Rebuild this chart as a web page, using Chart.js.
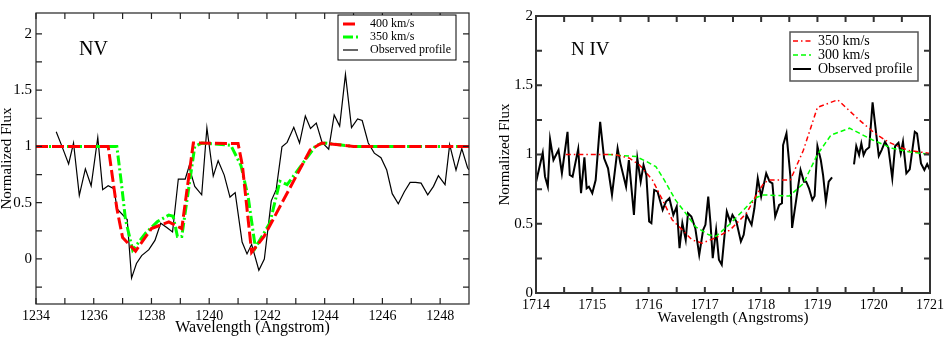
<!DOCTYPE html>
<html>
<head>
<meta charset="utf-8">
<script src="https://cdn.jsdelivr.net/npm/chart.js@4.4.1/dist/chart.umd.min.js"></script>
<style>
  html, body { margin: 0; padding: 0; background: #fff; }
  #wrap { position: relative; width: 948px; height: 338px; }
  canvas { position: absolute; top: 0; }
  #nv { left: 0; }
  #niv { left: 480px; }
</style>
</head>
<body>
<div id="wrap">
  <canvas id="nv" width="480" height="338"></canvas>
  <canvas id="niv" width="468" height="338"></canvas>
</div>
<script>
// ---- N V panel (left) ----
var nvObsX = [1234.70, 1234.90, 1235.13, 1235.30, 1235.50, 1235.71, 1235.91, 1236.14, 1236.31, 1236.50,
              1236.70, 1236.81, 1237.16, 1237.31, 1237.48, 1237.66, 1237.91, 1238.12, 1238.32, 1238.53,
              1238.73, 1238.93, 1239.17, 1239.30, 1239.50, 1239.74, 1239.92, 1240.14, 1240.31, 1240.52,
              1240.72, 1240.90, 1241.14, 1241.31, 1241.47, 1241.72, 1241.91, 1242.15, 1242.32, 1242.52,
              1242.70, 1242.93, 1243.13, 1243.33, 1243.51, 1243.71, 1243.91, 1244.14, 1244.33, 1244.52,
              1244.72, 1244.93, 1245.14, 1245.30, 1245.51, 1245.72, 1245.95, 1246.15, 1246.34, 1246.55,
              1246.76, 1246.96, 1247.15, 1247.34, 1247.57, 1247.77, 1247.94, 1248.17, 1248.33, 1248.55,
              1248.75, 1248.95, 1249.00];
var nvObsY = [1.13, 1.0, 0.845, 1.03, 0.565, 0.80, 0.65, 1.08, 0.616, 0.65,
              0.625, 0.445, 0.35, -0.17, -0.04, 0.03, 0.083, 0.165, 0.317, 0.28,
              0.24, 0.71, 0.71, 0.82, 0.645, 0.57, 1.165, 0.736, 0.873, 0.745,
              0.55, 0.59, 0.15, 0.045, 0.13, -0.10, 0.0, 0.516, 0.616, 0.996,
              1.036, 1.17, 1.03, 1.27, 1.16, 1.207, 1.036, 0.975, 1.28, 1.18,
              1.64, 1.167, 1.244, 1.23, 1.03, 0.94, 0.90, 0.79, 0.58, 0.49,
              0.597, 0.68, 0.68, 0.674, 0.57, 0.645, 0.74, 0.66, 1.016, 0.79,
              0.98, 0.81, 0.79];

var nv400X = [1234, 1236.5, 1236.8, 1237.0, 1237.45, 1238.0, 1238.6, 1239.05, 1239.45, 1241.0,
              1241.15, 1241.47, 1241.9, 1243.5, 1243.9, 1244.3, 1245, 1249];
var nv400Y = [1, 1, 0.45, 0.19, 0.07, 0.27, 0.33, 0.27, 1.03, 1.025,
              0.83, 0.06, 0.2, 0.97, 1.03, 1.02, 1.0, 1.0];

var nv350X = [1234, 1236.8, 1236.95, 1237.1, 1237.35, 1237.8, 1238.2, 1238.6, 1238.75, 1238.9,
              1239.05, 1239.5, 1239.75, 1240.75, 1241.1, 1241.35, 1241.6, 1242.1, 1242.45, 1242.7,
              1243.7, 1244, 1245, 1249];
var nv350Y = [1, 1, 0.69, 0.35, 0.08, 0.23, 0.33, 0.39, 0.38, 0.2,
              0.2, 1.0, 1.03, 1.01, 0.83, 0.55, 0.10, 0.32, 0.69, 0.66,
              1.01, 1.03, 1.0, 1.0];

var nvXTicks = [1234, 1236, 1238, 1240, 1242, 1244, 1246, 1248];
var nvXMinor = [1235, 1237, 1239, 1241, 1243, 1245, 1247];
var nvYTicks = [0, 0.5, 1, 1.5, 2];
var nvYMinor = [-0.25, 0.25, 0.75, 1.25, 1.75];

// ---- N IV panel (right) ----
var nivObsX = [1714.00, 1714.05, 1714.12, 1714.16, 1714.21, 1714.25, 1714.31, 1714.40, 1714.46, 1714.56,
               1714.60, 1714.65, 1714.75, 1714.80, 1714.86, 1714.90, 1714.94, 1715.00, 1715.06, 1715.14,
               1715.21, 1715.28, 1715.35, 1715.45, 1715.50, 1715.60, 1715.65, 1715.74, 1715.80, 1715.86,
               1715.91, 1715.96, 1716.01, 1716.05, 1716.10, 1716.16, 1716.25, 1716.31, 1716.37, 1716.44,
               1716.50, 1716.55, 1716.60, 1716.66, 1716.70, 1716.76, 1716.83, 1716.90, 1716.97, 1717.01,
               1717.06, 1717.10, 1717.14, 1717.20, 1717.25, 1717.30, 1717.39, 1717.45, 1717.49, 1717.56,
               1717.64, 1717.69, 1717.74, 1717.83, 1717.88, 1717.94, 1718.00, 1718.09, 1718.15, 1718.20,
               1718.25, 1718.32, 1718.37, 1718.39, 1718.45, 1718.52, 1718.55, 1718.70, 1718.76, 1718.80,
               1718.85, 1718.91, 1718.95, 1719.00, 1719.06, 1719.10, 1719.15, 1719.20, 1719.26,
               1719.45,
               1719.65, 1719.69, 1719.74, 1719.78, 1719.82, 1719.86, 1719.92, 1719.98, 1720.03, 1720.09,
               1720.14, 1720.20, 1720.26, 1720.33, 1720.38, 1720.44, 1720.48, 1720.52, 1720.58, 1720.64,
               1720.73, 1720.77, 1720.84, 1720.90, 1720.95, 1721.00];
var nivObsY = [0.80, 0.888, 1.013, 0.84, 0.768, 1.11, 0.96, 1.033, 0.865, 1.164,
               0.853, 0.84, 1.04, 0.72, 0.98, 0.756, 0.768, 0.72, 0.816, 1.236,
               0.972, 0.90, 0.708, 1.044, 0.936, 0.768, 0.96, 0.564, 0.972, 0.804,
               0.924, 0.852, 0.516, 0.504, 0.744, 0.732, 0.60, 0.66, 0.684, 0.564,
               0.624, 0.324, 0.504, 0.384, 0.576, 0.552, 0.468, 0.276, 0.456, 0.492,
               0.696, 0.504, 0.252, 0.456, 0.24, 0.204, 0.588, 0.516, 0.564, 0.516,
               0.372, 0.42, 0.564, 0.492, 0.612, 0.828, 0.696, 0.864, 0.804, 0.792,
               0.552, 0.636, 0.648, 1.068, 1.152, 0.84, 0.47, 0.888, 0.804, 0.804,
               0.756, 0.672, 0.70, 1.06, 0.96, 0.852, 0.66, 0.804, 0.835,
               null,
               0.929, 1.06, 0.996, 1.08, 0.996, 1.032, 1.052, 1.376, 1.20, 0.989,
               1.032, 1.092, 1.049, 0.828, 1.06, 1.085, 1.008, 1.092, 0.864, 0.893,
               1.164, 1.152, 0.936, 0.888, 0.931, 0.888];

var niv350X = [1714.53, 1715.4, 1715.66, 1715.84, 1716.07, 1716.25, 1716.42, 1716.6, 1716.77, 1716.95,
               1717.2, 1717.45, 1717.74, 1717.92, 1718.05, 1718.15, 1718.52, 1718.75, 1719.0, 1719.36,
               1719.74, 1720.03, 1720.26, 1720.61, 1721.0];
var niv350Y = [1.0, 1.0, 0.973, 0.924, 0.815, 0.67, 0.528, 0.456, 0.384, 0.36,
               0.40, 0.456, 0.576, 0.71, 0.795, 0.815, 0.817, 1.03, 1.34, 1.395,
               1.25, 1.15, 1.09, 1.03, 1.008];

var niv300X = [1715.28, 1715.78, 1715.96, 1716.13, 1716.28, 1716.48, 1716.66, 1716.83, 1717.07, 1717.2,
               1717.45, 1717.69, 1717.89, 1718.04, 1718.5, 1718.75, 1719.0, 1719.24, 1719.57, 1719.98,
               1720.33, 1720.62, 1721.0];
var niv300Y = [1.0, 0.985, 0.95, 0.912, 0.815, 0.67, 0.576, 0.48, 0.42, 0.41,
               0.5, 0.6, 0.686, 0.708, 0.70, 0.79, 1.0, 1.14, 1.19, 1.105,
               1.045, 1.02, 1.0];

var nivXTicks = [1714, 1715, 1716, 1717, 1718, 1719, 1720, 1721];
var nivXMinor = [1714.5, 1715.5, 1716.5, 1717.5, 1718.5, 1719.5, 1720.5];
var nivYTicks = [0, 0.5, 1, 1.5, 2];
var nivYMinor = [0.25, 0.75, 1.25, 1.75];

var SERIF = "'Liberation Serif', 'DejaVu Serif', serif";

function pts(xs, ys) {
  return xs.map((x, i) => ({ x: x, y: ys[i] }));
}

// frame with inward ticks on all four sides
const framePlugin = {
  id: 'frame',
  afterDatasetsDraw(chart, args, o) {
    const { ctx, chartArea: a } = chart;
    const x = chart.scales.x, y = chart.scales.y;
    ctx.save();
    ctx.strokeStyle = o.color;
    ctx.lineWidth = o.width;
    ctx.strokeRect(a.left, a.top, a.right - a.left, a.bottom - a.top);
    ctx.beginPath();
    o.xTicks.concat(o.xMinor).forEach(v => {
      const px = x.getPixelForValue(v);
      ctx.moveTo(px, a.bottom); ctx.lineTo(px, a.bottom - o.tick);
      ctx.moveTo(px, a.top); ctx.lineTo(px, a.top + o.tick);
    });
    o.yTicks.concat(o.yMinor).forEach(v => {
      const py = y.getPixelForValue(v);
      ctx.moveTo(a.left, py); ctx.lineTo(a.left + o.tick, py);
      ctx.moveTo(a.right, py); ctx.lineTo(a.right - o.tick, py);
    });
    ctx.stroke();
    ctx.restore();
  }
};

// legend box + ion label inside the plot
const boxLegend = {
  id: 'boxLegend',
  afterDraw(chart, args, o) {
    const ctx = chart.ctx;
    ctx.save();
    ctx.fillStyle = '#fff';
    ctx.fillRect(o.box[0], o.box[1], o.box[2], o.box[3]);
    ctx.strokeStyle = o.boxColor;
    ctx.lineWidth = o.boxWidth;
    ctx.strokeRect(o.box[0], o.box[1], o.box[2], o.box[3]);
    ctx.font = o.fontSize + 'px ' + SERIF;
    ctx.textBaseline = 'middle';
    chart.data.datasets.forEach((ds, i) => {
      const yy = o.rows[i];
      ctx.strokeStyle = ds.borderColor;
      ctx.lineWidth = ds.borderWidth;
      ctx.setLineDash(ds.borderDash || []);
      ctx.beginPath();
      ctx.moveTo(o.lineX[0], yy); ctx.lineTo(o.lineX[1], yy);
      ctx.stroke();
      ctx.setLineDash([]);
      ctx.fillStyle = '#000';
      ctx.fillText(ds.label, o.textX, yy);
    });
    ctx.font = o.ionSize + 'px ' + SERIF;
    ctx.textBaseline = 'alphabetic';
    ctx.fillText(o.ion, o.ionX, o.ionY);
    ctx.restore();
  }
};

function makeChart(id, c) {
  return new Chart(document.getElementById(id), {
    type: 'scatter',
    data: { datasets: c.datasets },
    options: {
      responsive: false,
      animation: false,
      layout: { padding: c.padding },
      elements: { point: { radius: 0 }, line: { tension: 0 } },
      plugins: {
        legend: { display: false },
        tooltip: { enabled: false },
        frame: c.frame,
        boxLegend: c.legend
      },
      scales: {
        x: {
          type: 'linear', min: c.xMin, max: c.xMax,
          grid: { display: false, drawTicks: false },
          border: { display: false },
          afterFit: s => { s.height = c.xHeight; },
          afterBuildTicks: s => { s.ticks = c.xTicks.map(v => ({ value: v })); },
          ticks: { color: '#000', padding: c.xTickPad, maxRotation: 0, autoSkip: false,
                   font: { family: SERIF, size: c.xTickSize }, callback: v => String(v) },
          title: { display: true, text: c.xTitle, color: '#000',
                   font: { family: SERIF, size: c.xTitleSize, lineHeight: 1.2 },
                   padding: { top: 0, bottom: c.xTitlePad } }
        },
        y: {
          type: 'linear', min: c.yMin, max: c.yMax,
          grid: { display: false, drawTicks: false },
          border: { display: false },
          afterFit: s => { s.width = c.yWidth; },
          afterBuildTicks: s => { s.ticks = c.yTicks.map(v => ({ value: v })); },
          ticks: { color: '#000', padding: c.yTickPad, autoSkip: false,
                   font: { family: SERIF, size: c.yTickSize }, callback: v => String(v) },
          title: { display: true, text: 'Normalized Flux', color: '#000',
                   font: { family: SERIF, size: 15, lineHeight: 1 },
                   padding: { top: c.yTitlePad, bottom: 0 } }
        }
      }
    },
    plugins: [framePlugin, boxLegend]
  });
}

makeChart('nv', {
  datasets: [
    { label: '400 km/s', data: pts(nv400X, nv400Y), showLine: true, borderColor: '#ff0000',
      borderWidth: 3, borderDash: [12, 4] },
    { label: '350 km/s', data: pts(nv350X, nv350Y), showLine: true, borderColor: '#00ff00',
      borderWidth: 3, borderDash: [10, 3, 2, 3] },
    { label: 'Observed profile', data: pts(nvObsX, nvObsY), showLine: true, borderColor: '#000',
      borderWidth: 1.2 }
  ],
  padding: { left: 0, top: 2, right: 11, bottom: 0 },
  xMin: 1234, xMax: 1249, yMin: -0.4, yMax: 2.185,
  xTicks: nvXTicks, yTicks: nvYTicks,
  xHeight: 34, yWidth: 36,
  xTickSize: 14, yTickSize: 15, xTickPad: 4, yTickPad: 4,
  xTitle: 'Wavelength (Angstrom)', xTitleSize: 16, xTitlePad: 1, yTitlePad: 0,
  frame: { color: '#222', width: 1.2, tick: 6, xTicks: nvXTicks, xMinor: nvXMinor,
           yTicks: nvYTicks, yMinor: nvYMinor },
  legend: { box: [338, 15, 118, 45], boxColor: '#000', boxWidth: 1,
            lineX: [343, 358], textX: 370, rows: [24, 37, 50], fontSize: 12,
            ion: 'NV', ionX: 79, ionY: 55, ionSize: 20 }
});

makeChart('niv', {
  datasets: [
    { label: '350 km/s', data: pts(niv350X, niv350Y), showLine: true, borderColor: '#ff0000',
      borderWidth: 1.5, borderDash: [5, 3, 1.5, 3] },
    { label: '300 km/s', data: pts(niv300X, niv300Y), showLine: true, borderColor: '#00ff00',
      borderWidth: 1.5, borderDash: [5, 3] },
    { label: 'Observed profile', data: pts(nivObsX, nivObsY), showLine: true, borderColor: '#000',
      borderWidth: 2, spanGaps: false }
  ],
  padding: { left: 0, top: 16, right: 15, bottom: 0 },
  xMin: 1714, xMax: 1721, yMin: 0, yMax: 2,
  xTicks: nivXTicks, yTicks: nivYTicks,
  xHeight: 45, yWidth: 56,
  xTickSize: 14, yTickSize: 15, xTickPad: 4, yTickPad: 3,
  xTitle: 'Wavelength (Angstroms)', xTitleSize: 15, xTitlePad: 11, yTitlePad: 18,
  frame: { color: '#333', width: 2, tick: 6, xTicks: nivXTicks, xMinor: nivXMinor,
           yTicks: nivYTicks, yMinor: nivYMinor },
  legend: { box: [310, 32, 128, 49], boxColor: '#555', boxWidth: 1.5,
            lineX: [313, 331], textX: 338, rows: [41, 55, 69], fontSize: 14,
            ion: 'N IV', ionX: 91, ionY: 55, ionSize: 19 }
});
</script>
</body>
</html>
